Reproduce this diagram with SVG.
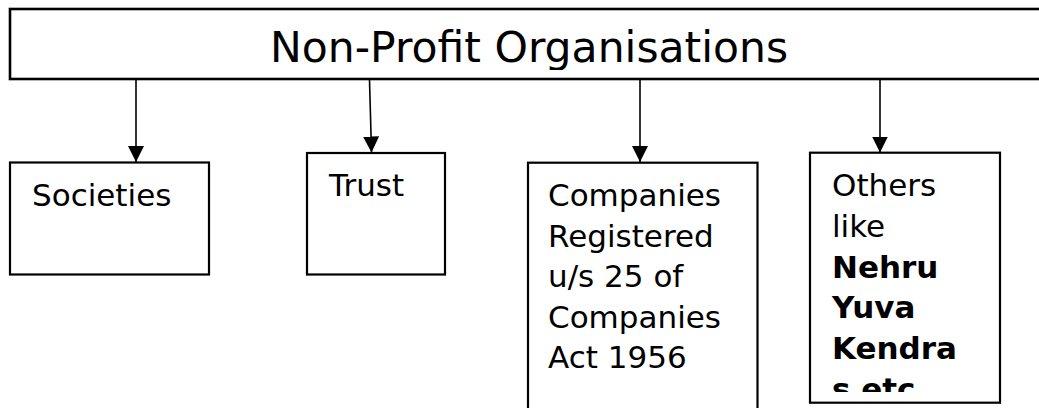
<svg xmlns="http://www.w3.org/2000/svg" width="1039" height="408" viewBox="0 0 1039 408">
  <style>
    .box { fill: #ffffff; stroke: #000000; stroke-width: 2.2; }
    .top { fill: #ffffff; stroke: #000000; stroke-width: 2.6; }
    .t { font-family: "DejaVu Sans", Verdana, sans-serif; font-size: 31px; fill: #000000; }
    .b { font-weight: bold; }
    .title { font-family: "DejaVu Sans", Verdana, sans-serif; font-size: 42.5px; fill: #000000; }
    .conn { stroke: #000000; stroke-width: 1.6; fill: none; marker-end: url(#arrow); }
  </style>
  <defs>
    <marker id="arrow" viewBox="0 0 10 10" refX="10" refY="5" markerWidth="16" markerHeight="16" markerUnits="userSpaceOnUse" orient="auto">
      <path d="M0,0 L10,5 L0,10 z" fill="#000000"/>
    </marker>
    <clipPath id="othersClip">
      <rect x="811" y="154" width="188" height="238"/>
    </clipPath>
    <clipPath id="titleClip">
      <rect x="12" y="11" width="1027" height="59"/>
    </clipPath>
  </defs>
  <rect width="1039" height="408" fill="#ffffff"/>

  <g id="node-root">
    <rect class="top" x="10" y="9" width="1040" height="70"/>
    <text class="title" x="270" y="62" clip-path="url(#titleClip)">Non-Profit Organisations</text>
  </g>

  <g id="connectors">
    <line class="conn" x1="136" y1="80" x2="136" y2="162"/>
    <line class="conn" x1="369.5" y1="80" x2="371.5" y2="152.5"/>
    <line class="conn" x1="640" y1="80" x2="640" y2="162"/>
    <line class="conn" x1="880" y1="80" x2="880" y2="152.5"/>
  </g>

  <g id="node-societies">
    <rect class="box" x="10" y="162.5" width="199" height="112"/>
    <text class="t" x="32" y="206">Societies</text>
  </g>

  <g id="node-trust">
    <rect class="box" x="307" y="153" width="138" height="121.5"/>
    <text class="t" x="329" y="196">Trust</text>
  </g>

  <g id="node-companies">
    <rect class="box" x="528" y="162.7" width="229.5" height="260"/>
    <text class="t" x="548" y="206">Companies</text>
    <text class="t" x="548" y="247">Registered</text>
    <text class="t" x="548" y="287">u/s 25 of</text>
    <text class="t" x="548" y="328">Companies</text>
    <text class="t" x="548" y="368">Act 1956</text>
  </g>

  <g id="node-others">
    <rect class="box" x="810" y="152.7" width="190" height="250"/>
    <g clip-path="url(#othersClip)">
      <text class="t" x="832" y="196">Others</text>
      <text class="t" x="832" y="237">like</text>
      <text class="t b" x="832" y="277.5">Nehru</text>
      <text class="t b" x="832" y="318">Yuva</text>
      <text class="t b" x="832" y="359">Kendra</text>
      <text class="t b" x="832" y="400">s etc</text>
    </g>
  </g>
</svg>
